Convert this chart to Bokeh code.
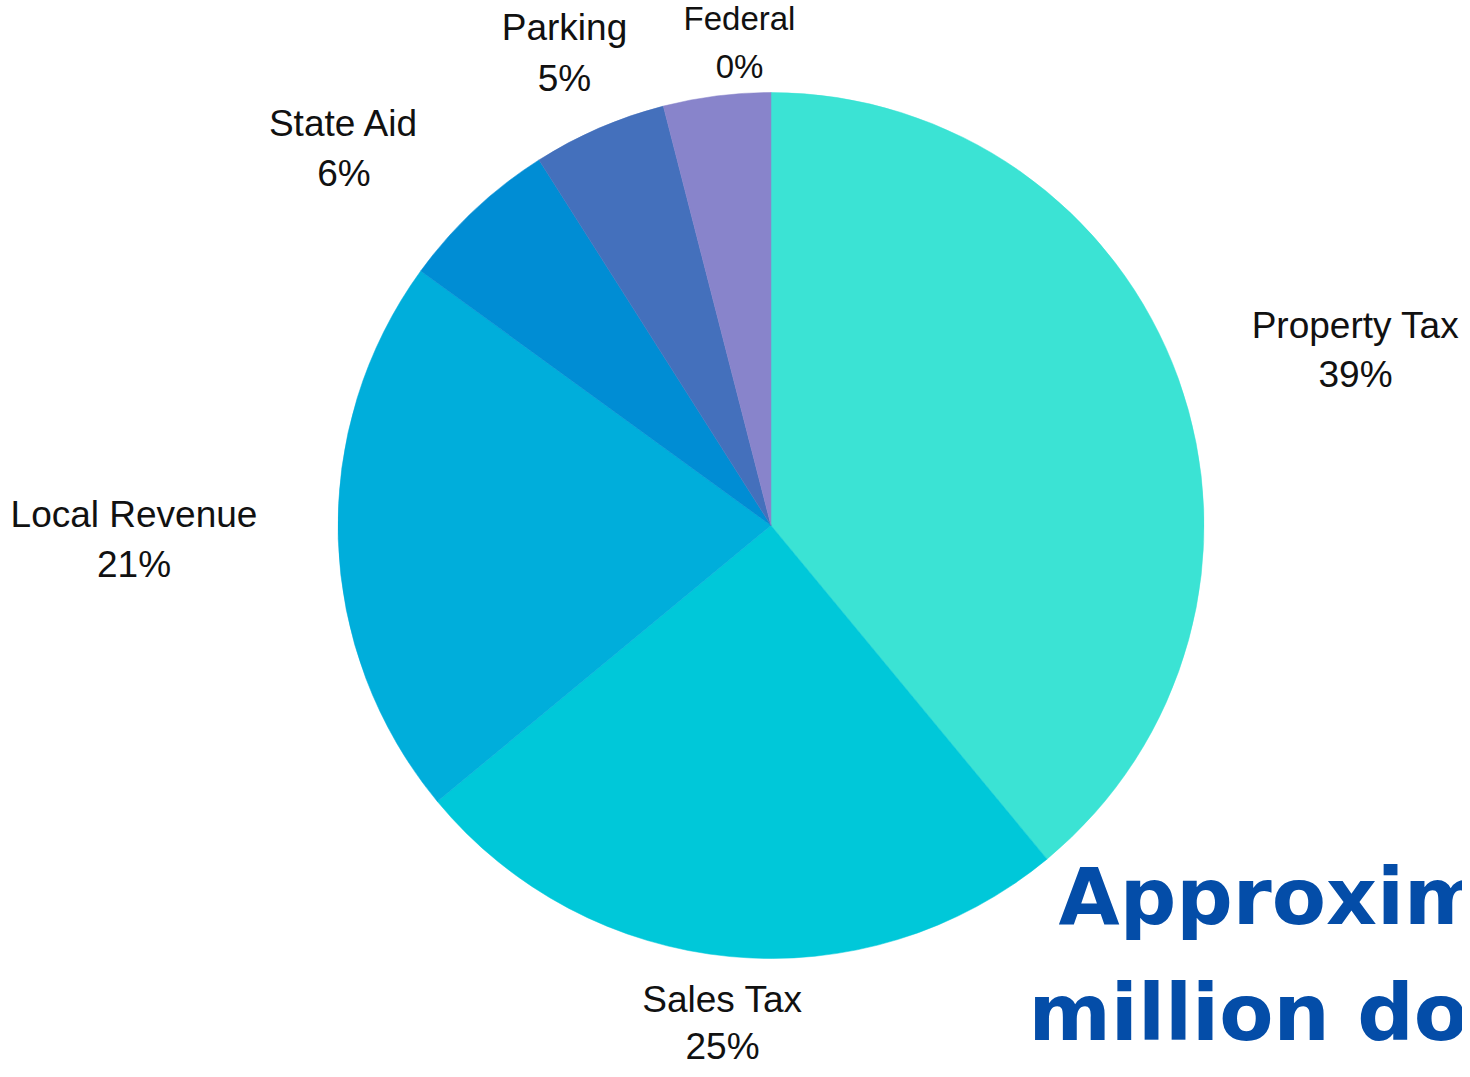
import math
from bokeh.plotting import figure
from bokeh.models import Range1d, ColumnDataSource
from bokeh.core.properties import value
from bokeh.embed import file_html
from bokeh.resources import INLINE

# ---- data ----
categories = ["Property Tax", "Sales Tax", "Local Revenue", "State Aid", "Parking", "Federal"]
values = [39, 25, 21, 6, 5, 4]
pct_labels = ["39%", "25%", "21%", "6%", "5%", "0%"]
colors = ["#3BE3D4", "#00C8D9", "#00AEDB", "#008DD4", "#4470BC", "#8884CB"]
title_lines = ["Approximately", "million dollars"]

# ---- layout (picture pixel coordinates, origin top-left of the figure) ----
W, H = 1462, 1069
def X(px):
    return px
def Y(py):
    return H - py

cx, cy, r = 770.5, 525, 433
BASE_K = 0.37  # renderer places the glyph baseline this many em below the anchor
label_pos = {  # center x, visual baseline line 1, visual baseline line 2, font px
    "Property Tax": (1355, 339, 388, 37),
    "Sales Tax": (722, 1013, 1060, 37),
    "Local Revenue": (133.5, 528, 578, 37),
    "State Aid": (343.5, 137, 187, 37),
    "Parking": (564, 41, 92, 37),
    "Federal": (739, 30, 78, 33),
}

p = figure(width=W, height=H, output_backend="svg", toolbar_location=None,
           x_range=Range1d(0, W), y_range=Range1d(0, H),
           x_axis_location=None, y_axis_location=None, min_border=0)
p.grid.visible = False
p.outline_line_color = None
p.background_fill_color = "white"
p.border_fill_color = "white"

total = float(sum(values))
starts, ends = [], []
cum = 0.0
for v in values:
    a0 = math.pi / 2 - 2 * math.pi * cum / total
    cum += v
    a1 = math.pi / 2 - 2 * math.pi * cum / total
    starts.append(a0)
    ends.append(a1)

src = ColumnDataSource(dict(cat=categories, val=values, start=starts, end=ends, color=colors))
p.wedge(x=X(cx), y=Y(cy), radius=r, start_angle="start", end_angle="end",
        direction="clock", fill_color="color", line_color="color", line_width=0.5, source=src)

for cat, pct in zip(categories, pct_labels):
    lx, b1, b2, fs = label_pos[cat]
    off = BASE_K * fs
    p.text(x=[X(lx), X(lx)], y=[Y(b1 - off), Y(b2 - off)], text=[cat, pct],
           text_font=value("Liberation Sans"), text_font_size=f"{fs}px",
           text_align="center", text_baseline="alphabetic", text_color="#111111")

# title (cut by the right edge as in the reference)
tfs = 79
toff = BASE_K * tfs
p.text(x=[X(1058), X(1028)], y=[Y(926 - toff), Y(1042 - toff)], text=title_lines,
       text_font=value("DejaVu Sans"), text_font_style="bold", text_font_size=f"{tfs}px",
       text_align="left", text_baseline="alphabetic", text_color="#044DA8")

open("out.html", "w").write(file_html(p, INLINE))
